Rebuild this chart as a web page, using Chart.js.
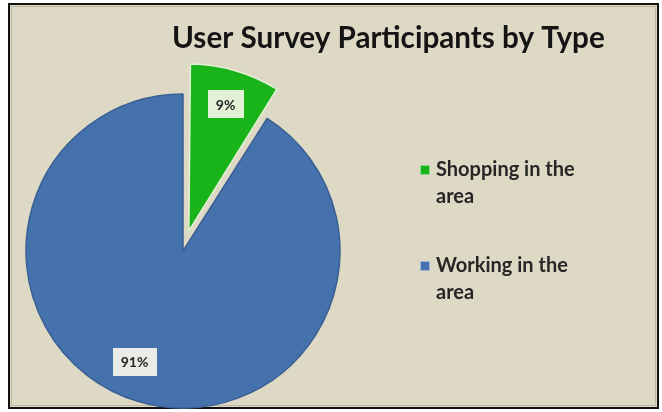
<!DOCTYPE html>
<html>
<head>
<meta charset="utf-8">
<script src="https://cdn.jsdelivr.net/npm/chart.js@4.4.1/dist/chart.umd.min.js"></script>
<style>
  html, body { margin: 0; padding: 0; background: #ffffff; }
  #wrap { width: 662px; height: 412px; }
  canvas { display: block; }
</style>
</head>
<body>
<div id="wrap"><canvas id="chart" width="662" height="412"></canvas></div>
<script>
// Survey breakdown
const chartTitle = 'User Survey Participants by Type';
const categories = ['Shopping in the area', 'Working in the area'];
const shares = [9, 91];            // percent of participants
const sliceColors = ['#19b419', '#4571ad'];
const sliceEdges = ['#e4f1d6', '#3a5f93'];
const explode = [21, 0];           // pulled-out slice distance, px

// where each percent tag sits: fraction of radius, and small angular nudge (rad)
const labelPlacement = [{ r: 0.84, turn: 0 }, { r: 0.77, turn: 0.13 }];

const FONT = 'Lato, "DejaVu Sans", sans-serif';
const INK = '#262626';
const PAPER = '#ddd9c4';

// Chart.js v4 arcs move by offset / 4, so scale the wanted distance up
const ARC_OFFSET_SCALE = 4;

// panel: white page, beige plot, black frame
const panelPlugin = {
  id: 'panel',
  beforeDraw(chart) {
    const ctx = chart.ctx;
    ctx.save();
    ctx.fillStyle = '#ffffff';
    ctx.fillRect(0, 0, chart.width, chart.height);
    ctx.fillStyle = PAPER;
    ctx.fillRect(10, 5, 647, 402);
    ctx.strokeStyle = '#111111';
    ctx.lineWidth = 2;
    ctx.strokeRect(9, 4, 649, 404);
    ctx.strokeStyle = 'rgba(120,118,100,0.35)';
    ctx.lineWidth = 1;
    ctx.strokeRect(11.5, 6.5, 644, 399);
    ctx.restore();
  }
};

function wrapText(ctx, text, maxWidth) {
  const words = text.split(' ');
  const lines = [];
  let line = '';
  for (const w of words) {
    const test = line ? line + ' ' + w : w;
    if (line && ctx.measureText(test).width > maxWidth) {
      lines.push(line);
      line = w;
    } else {
      line = test;
    }
  }
  if (line) lines.push(line);
  return lines;
}

// percent tags, title and legend
const annotatePlugin = {
  id: 'annotate',
  afterDatasetsDraw(chart) {
    const ctx = chart.ctx;
    const meta = chart.getDatasetMeta(0);
    const values = chart.data.datasets[0].data;
    const total = values.reduce((a, b) => a + b, 0);
    ctx.save();
    ctx.font = 'bold 14px ' + FONT;
    ctx.textAlign = 'center';
    ctx.textBaseline = 'middle';
    meta.data.forEach((arc, i) => {
      const p = arc.getProps(['x', 'y', 'startAngle', 'endAngle', 'outerRadius']);
      const mid = (p.startAngle + p.endAngle) / 2;
      const off = (arc.options.offset || 0) / ARC_OFFSET_SCALE;
      const ax = p.x + Math.cos(mid) * off;
      const ay = p.y + Math.sin(mid) * off;
      const place = labelPlacement[i];
      const ang = mid + place.turn;
      const lx = ax + Math.cos(ang) * p.outerRadius * place.r;
      const ly = ay + Math.sin(ang) * p.outerRadius * place.r;
      const txt = Math.round(values[i] / total * 100) + '%';
      const w = ctx.measureText(txt).width + 16;
      const h = 28;
      ctx.fillStyle = 'rgba(250,248,236,0.9)';
      ctx.fillRect(Math.round(lx - w / 2), Math.round(ly - h / 2), Math.round(w), h);
      ctx.fillStyle = INK;
      ctx.fillText(txt, lx, ly + 1);
    });
    ctx.restore();
  },
  afterDraw(chart) {
    const ctx = chart.ctx;
    ctx.save();
    // title
    ctx.fillStyle = '#141414';
    ctx.textBaseline = 'alphabetic';
    ctx.textAlign = 'left';
    ctx.font = 'bold 30px ' + FONT;
    const raw = ctx.measureText(chartTitle).width;
    const size = 30 * 433 / raw;
    ctx.font = 'bold ' + size.toFixed(2) + 'px ' + FONT;
    ctx.fillText(chartTitle, 172, 48);

    // legend
    ctx.font = 'bold 20px ' + FONT;
    ctx.textBaseline = 'middle';
    const groupTop = [170, 266];
    categories.forEach((name, i) => {
      const lines = wrapText(ctx, name, 155);
      const y0 = groupTop[i];
      ctx.fillStyle = sliceColors[i];
      ctx.fillRect(420, y0 - 5, 10, 10);
      ctx.strokeStyle = 'rgba(255,255,255,0.5)';
      ctx.lineWidth = 1;
      ctx.strokeRect(420.5, y0 - 4.5, 9, 9);
      ctx.fillStyle = INK;
      lines.forEach((ln, k) => ctx.fillText(ln, 436, y0 + k * 27));
    });
    ctx.restore();
  }
};

new Chart(document.getElementById('chart'), {
  type: 'pie',
  data: {
    labels: categories,
    datasets: [{
      data: shares,
      backgroundColor: sliceColors,
      borderColor: sliceEdges,
      borderWidth: 1.5,
      hoverBorderWidth: 1.5,
      offset: explode.map(d => d * ARC_OFFSET_SCALE),
      hoverOffset: 0
    }]
  },
  options: {
    responsive: false,
    animation: false,
    events: [],
    radius: 157,
    layout: { padding: { left: 15, right: 311, top: 90, bottom: 0 } },
    plugins: {
      legend: { display: false },
      title: { display: false },
      tooltip: { enabled: false }
    }
  },
  plugins: [panelPlugin, annotatePlugin]
});
</script>
</body>
</html>
